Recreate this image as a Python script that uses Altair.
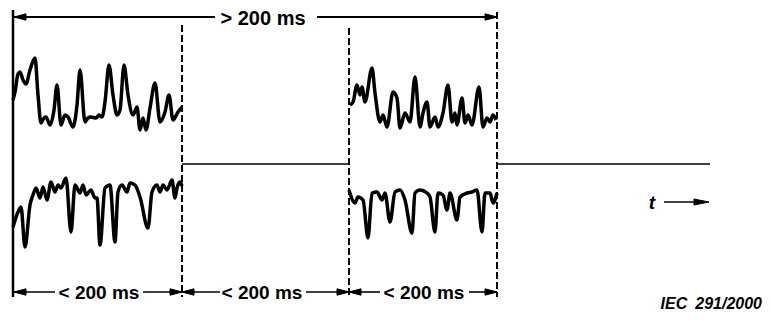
import altair as alt
import pandas as pd

# ---- waveform readings (time position, level) ----
b1_up_t = [13, 15, 18, 20, 23, 26, 30, 35, 38, 41, 44, 46, 50, 54, 57, 61, 65, 68, 73, 77, 80, 85, 88, 91, 96, 99,
           102, 105, 109, 113, 117, 120, 124, 128, 133, 137, 140, 143, 146, 150, 155, 160, 165, 169, 173, 178, 182]
b1_up_v = [100, 92, 74, 72, 80, 84, 70, 58, 95, 123, 118, 117, 125, 110, 85, 125, 115, 117, 127, 105, 70, 122, 118,
           117, 118, 115, 117, 102, 65, 95, 115, 110, 65, 95, 115, 107, 130, 118, 130, 108, 83, 122, 112, 95, 120, 112, 107]

b1_lo_t = [13, 18, 21, 25, 30, 33, 36, 40, 43, 47, 51, 55, 58, 61, 66, 71, 75, 80, 83, 86, 91, 95, 97, 100, 105,
           110, 115, 118, 122, 127, 130, 135, 140, 148, 152, 157, 160, 163, 167, 172, 175, 177, 180, 182]
b1_lo_v = [227, 212, 207, 247, 205, 195, 188, 198, 187, 200, 182, 192, 185, 188, 178, 232, 185, 193, 185, 195, 190,
           198, 198, 245, 188, 185, 242, 192, 185, 192, 183, 185, 197, 228, 192, 185, 192, 185, 190, 180, 198, 188, 182, 186]

b2_up_t = [350, 353, 357, 360, 362, 365, 372, 375, 380, 383, 387, 393, 397, 400, 405, 410, 415, 420, 423, 427, 430,
           435, 438, 443, 448, 452, 455, 457, 462, 465, 468, 472, 479, 483, 487, 490, 493, 496]
b2_up_v = [105, 102, 85, 95, 87, 102, 68, 93, 122, 115, 127, 92, 98, 128, 113, 122, 77, 127, 113, 102, 127, 117,
           127, 113, 85, 122, 113, 125, 98, 123, 115, 125, 87, 127, 118, 122, 115, 120]

b2_lo_t = [349, 355, 358, 363, 368, 372, 377, 382, 385, 390, 395, 400, 405, 412, 415, 420, 427, 430, 435, 438, 443,
           447, 450, 457, 460, 467, 472, 477, 482, 485, 490, 493, 497]
b2_lo_v = [190, 203, 197, 200, 238, 193, 192, 200, 193, 222, 192, 190, 200, 233, 193, 190, 193, 197, 232, 193, 195,
           210, 193, 220, 197, 193, 192, 190, 232, 193, 193, 203, 193]

# ---- time marks ----
burst_edges = [182, 349, 497]          # dashed boundaries
dash_tops = [25, 28, 12]
start_t = 13
end_t = 710
idle_level = 164

# ---- labels ----
top_label = "> 200 ms"
bottom_labels = ["< 200 ms", "< 200 ms", "< 200 ms"]
axis_label = "t"
credit = "IEC\u2002291/2000"

# ---------- build tables ----------
rows = []
for name, ts, vs in [("b1u", b1_up_t, b1_up_v), ("b1l", b1_lo_t, b1_lo_v),
                     ("b2u", b2_up_t, b2_up_v), ("b2l", b2_lo_t, b2_lo_v)]:
    for i, (t, v) in enumerate(zip(ts, vs)):
        rows.append({"s": name, "i": i, "t": t, "v": v})
waves = pd.DataFrame(rows)

X = alt.Scale(domain=[8, 763], nice=False, zero=False)
Y = alt.Scale(domain=[8, 313], nice=False, zero=False, reverse=True)


def xe(f="t"):
    return alt.X(f"{f}:Q", scale=X, axis=None)


def ye(f="v"):
    return alt.Y(f"{f}:Q", scale=Y, axis=None)


wave = alt.Chart(waves).mark_line(color="black", strokeWidth=3.5, strokeJoin="round",
                                  interpolate="monotone").encode(
    x=xe(), y=ye(), detail="s:N", order="i:Q")

solid = alt.Chart(pd.DataFrame({"t": [start_t], "v": [10], "v2": [297]})).mark_rule(
    color="black", strokeWidth=2.5).encode(x=xe(), y=ye(), y2="v2:Q")

dashed = alt.Chart(pd.DataFrame({"t": burst_edges, "v": dash_tops, "v2": [297] * 3})).mark_rule(
    color="black", strokeWidth=2, strokeDash=[7, 3]).encode(x=xe(), y=ye(), y2="v2:Q")

idle = alt.Chart(pd.DataFrame({"t": [burst_edges[0], burst_edges[2]], "t2": [burst_edges[1], end_t],
                               "v": [idle_level, idle_level]})).mark_rule(
    color="black", strokeWidth=1.6).encode(x=xe(), x2="t2:Q", y=ye())

# dimension lines (gaps left for the labels)
top_y = 17
bot_y = 292
top_segs = pd.DataFrame({"t": [14, 317], "t2": [215, 497], "v": [top_y, top_y]})
bot_segs = pd.DataFrame({"t": [14, 143, 182, 306, 349, 469], "t2": [55, 182, 220, 349, 380, 497],
                         "v": [bot_y] * 6})
top_line = alt.Chart(top_segs).mark_rule(color="black", strokeWidth=2).encode(x=xe(), x2="t2:Q", y=ye())
bot_line = alt.Chart(bot_segs).mark_rule(color="black", strokeWidth=1.6).encode(x=xe(), x2="t2:Q", y=ye())

# arrowheads as small filled triangles (tip, direction)
heads = [(497, top_y, 1), (14, top_y, -1),
         (182, bot_y, 1), (349, bot_y, 1), (497, bot_y, 1),
         (14, bot_y, -1), (182, bot_y, -1), (349, bot_y, -1)]
L, H = 12, 3.2
hrows = []
for k, (tip, yy, d) in enumerate(heads):
    hrows += [{"k": k, "i": 0, "t": tip, "v": yy},
              {"k": k, "i": 1, "t": tip - d * L, "v": yy - H},
              {"k": k, "i": 2, "t": tip - d * L, "v": yy + H},
              {"k": k, "i": 3, "t": tip, "v": yy}]
# arrow of the time axis
hrows += [{"k": 99, "i": 0, "t": 709, "v": 202},
          {"k": 99, "i": 1, "t": 694, "v": 199},
          {"k": 99, "i": 2, "t": 694, "v": 205},
          {"k": 99, "i": 3, "t": 709, "v": 202}]
heads_df = pd.DataFrame(hrows)
arrowheads = alt.Chart(heads_df).mark_line(color="black", fill="black", strokeWidth=1,
                                           strokeJoin="miter").encode(
    x=xe(), y=ye(), detail="k:N", order="i:Q")

# t arrow
t_line = alt.Chart(pd.DataFrame({"t": [664], "t2": [700], "v": [202]})).mark_rule(
    color="black", strokeWidth=1.6).encode(x=xe(), x2="t2:Q", y=ye())

FONT = "Liberation Sans"
top_text = alt.Chart(pd.DataFrame({"t": [263], "v": [24.5], "txt": [top_label]})).mark_text(
    font=FONT, fontSize=20, fontWeight="bold", baseline="alphabetic", align="center", color="black").encode(
    x=xe(), y=ye(), text="txt:N")
bot_text = alt.Chart(pd.DataFrame({"t": [99, 262, 424], "v": [bot_y + 7] * 3, "txt": bottom_labels})).mark_text(
    font=FONT, fontSize=19, fontWeight="bold", baseline="alphabetic", align="center", color="black").encode(
    x=xe(), y=ye(), text="txt:N")
t_text = alt.Chart(pd.DataFrame({"t": [652], "v": [209], "txt": [axis_label]})).mark_text(
    font=FONT, fontSize=19, fontWeight="bold", fontStyle="italic", baseline="alphabetic", align="center",
    color="black").encode(x=xe(), y=ye(), text="txt:N")
credit_text = alt.Chart(pd.DataFrame({"t": [762], "v": [309], "txt": [credit]})).mark_text(
    font=FONT, fontSize=16, fontWeight="bold", fontStyle="italic", baseline="alphabetic", align="right",
    color="black").encode(x=xe(), y=ye(), text="txt:N")

chart = alt.layer(wave, solid, dashed, idle, top_line, bot_line, arrowheads, t_line,
                  top_text, bot_text, t_text, credit_text).properties(
    width=755, height=305, autosize=alt.AutoSizeParams(type="none"), padding=0,
    background="white").configure_view(stroke=None)

chart.save("out.html", embed_options={"renderer": "svg", "actions": False})
